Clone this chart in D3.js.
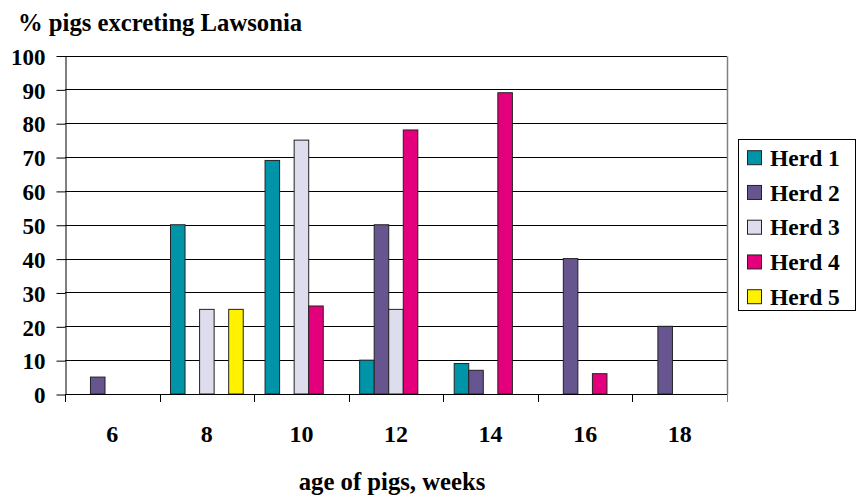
<!DOCTYPE html>
<html>
<head>
<meta charset="utf-8">
<script src="https://cdn.jsdelivr.net/npm/d3@7"></script>
<style>
  html, body { margin: 0; padding: 0; background: #fff; }
</style>
</head>
<body>
<svg id="chart" width="858" height="497" font-family="Liberation Serif" font-weight="bold"></svg>
<script>
const categories = ["6", "8", "10", "12", "14", "16", "18"];
const herds = ["Herd 1", "Herd 2", "Herd 3", "Herd 4", "Herd 5"];
const herd1 = [null, 50, 69, 10, 9, null, null];
const herd2 = [5, null, null, 50, 7, 40, 20];
const herd3 = [null, 25, 75, 25, null, null, null];
const herd4 = [null, null, 26, 78, 89, 6, null];
const herd5 = [null, 25, null, null, null, null, null];
const yTicks = [0, 10, 20, 30, 40, 50, 60, 70, 80, 90, 100];
const colors = ["#0094A8", "#67558F", "#DDDDEE", "#E4007C", "#FFF200"];
const titleText = "% pigs excreting Lawsonia";
const xTitleText = "age of pigs, weeks";

const series = [herd1, herd2, herd3, herd4, herd5];
const FONT = "Liberation Serif";

const svg = d3.select("#chart");
const m = { left: 65, right: 727, top: 55.5, bottom: 394 };

const x = d3.scaleBand().domain(categories).range([m.left, m.right]).paddingInner(0).paddingOuter(0);
const xi = d3.scaleBand().domain(herds).range([0, x.bandwidth()]).paddingInner(0).paddingOuter(0.75);
const y = d3.scaleLinear().domain([0, 100]).range([m.bottom, m.top]);

// gridlines
svg.append("g").selectAll("line").data(yTicks).join("line")
  .attr("x1", m.left).attr("x2", m.right)
  .attr("y1", d => Math.round(y(d)) + 0.5).attr("y2", d => Math.round(y(d)) + 0.5)
  .attr("stroke", "#000").attr("stroke-width", 1);

// right border
svg.append("line")
  .attr("x1", m.right + 0.5).attr("x2", m.right + 0.5)
  .attr("y1", Math.round(y(100)) + 0.5).attr("y2", Math.round(y(0)) + 0.5)
  .attr("stroke", "#808080").attr("stroke-width", 1.5);

// bars
const rows = [];
series.forEach((s, si) => s.forEach((v, ci) => {
  if (v !== null) rows.push({ herd: herds[si], cat: categories[ci], v, si });
}));
svg.append("g").selectAll("rect").data(rows).join("rect")
  .attr("x", d => x(d.cat) + xi(d.herd))
  .attr("width", xi.bandwidth())
  .attr("y", d => y(d.v))
  .attr("height", d => y(0) - y(d.v))
  .attr("fill", d => colors[d.si])
  .attr("stroke", "#222")
  .attr("stroke-width", 1);

// y axis
const yAxis = d3.axisLeft(y).tickValues(yTicks).tickSize(9).tickPadding(11).tickSizeOuter(0);
const gy = svg.append("g").attr("transform", `translate(${m.left + 0.5},0.5)`).call(yAxis)
  .attr("font-family", FONT).attr("font-size", 23);
gy.select(".domain").attr("stroke", "#000");
gy.selectAll(".tick line").attr("stroke", "#000");
gy.selectAll(".tick text").attr("font-family", FONT).attr("font-weight", "bold")
  .attr("font-size", 23).attr("fill", "#000").attr("dy", "0.36em");

// x axis baseline + boundary ticks
const boundaries = categories.map(c => x(c)).concat([m.right]);
svg.append("line")
  .attr("x1", m.left).attr("x2", m.right)
  .attr("y1", Math.round(y(0)) + 0.5).attr("y2", Math.round(y(0)) + 0.5)
  .attr("stroke", "#000");
svg.append("g").selectAll("line").data(boundaries).join("line")
  .attr("x1", d => Math.round(d) + 0.5).attr("x2", d => Math.round(d) + 0.5)
  .attr("y1", Math.round(y(0))).attr("y2", Math.round(y(0)) + 8)
  .attr("stroke", d => d === m.right ? "#808080" : "#000");

svg.append("g").selectAll("text").data(categories).join("text")
  .attr("x", d => x(d) + x.bandwidth() / 2)
  .attr("y", 442)
  .attr("text-anchor", "middle")
  .attr("font-family", FONT).attr("font-weight", "bold")
  .attr("font-size", 24)
  .text(d => d);

// titles
svg.append("text").attr("x", 18).attr("y", 31)
  .attr("font-family", FONT).attr("font-weight", "bold").attr("font-size", 24.7).text(titleText);
svg.append("text").attr("x", (m.left + m.right) / 2 - 4).attr("y", 490)
  .attr("text-anchor", "middle")
  .attr("font-family", FONT).attr("font-weight", "bold").attr("font-size", 24.7).text(xTitleText);

// legend
const lg = svg.append("g");
lg.append("rect").attr("x", 738.5).attr("y", 139.5).attr("width", 117).attr("height", 171)
  .attr("fill", "#fff").attr("stroke", "#000");
const items = lg.selectAll("g.item").data(herds).join("g").attr("class", "item")
  .attr("transform", (d, i) => `translate(0,${157.7 + i * 34.75})`);
items.append("rect").attr("x", 747.5).attr("y", -7).attr("width", 14).attr("height", 14)
  .attr("fill", (d, i) => colors[i]).attr("stroke", "#222");
items.append("text").attr("x", 770).attr("y", 0).attr("dy", "0.35em")
  .attr("font-family", FONT).attr("font-weight", "bold")
  .attr("font-size", 23.5).text(d => d);
</script>
</body>
</html>
